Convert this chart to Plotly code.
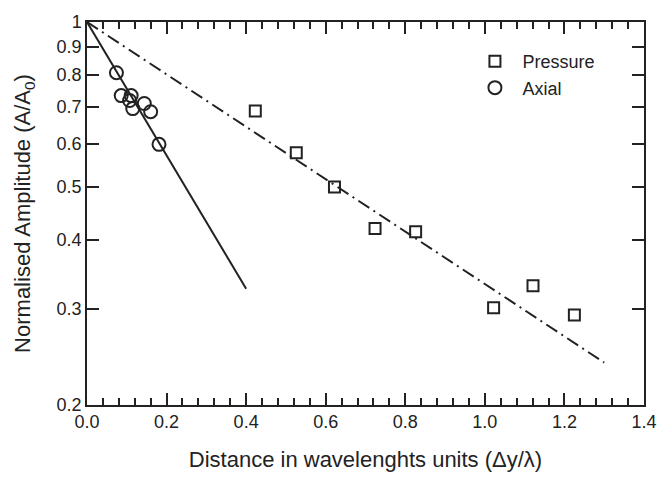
import plotly.graph_objects as go

# Data
pressure_x = [0.423, 0.526, 0.622, 0.724, 0.826, 1.022, 1.121, 1.225]
pressure_y = [0.688, 0.577, 0.500, 0.420, 0.414, 0.301, 0.330, 0.292]

axial_x = [0.074, 0.086, 0.111, 0.107, 0.115, 0.144, 0.160, 0.181]
axial_y = [0.808, 0.734, 0.734, 0.719, 0.695, 0.710, 0.686, 0.598]

pressure_fit_x = [0.0, 1.30]
pressure_fit_y = [1.0, 0.239]
axial_fit_x = [0.0, 0.40]
axial_fit_y = [1.0, 0.326]

y_tickvals = [0.2, 0.3, 0.4, 0.5, 0.6, 0.7, 0.8, 0.9, 1.0]
y_ticktext = ["0.2", "0.3", "0.4", "0.5", "0.6", "0.7", "0.8", "0.9", "1"]
x_tickvals = [0.0, 0.2, 0.4, 0.6, 0.8, 1.0, 1.2, 1.4]
x_ticktext = ["0.0", "0.2", "0.4", "0.6", "0.8", "1.0", "1.2", "1.4"]

INK = "#222222"
FONT = "Liberation Sans, Arial, sans-serif"

fig = go.Figure()

fig.add_trace(go.Scatter(
    x=axial_fit_x, y=axial_fit_y, mode="lines",
    line=dict(color=INK, width=2), showlegend=False, hoverinfo="skip"))
fig.add_trace(go.Scatter(
    x=pressure_fit_x, y=pressure_fit_y, mode="lines",
    line=dict(color=INK, width=2, dash="13px,5px,2px,5px"),
    showlegend=False, hoverinfo="skip"))

fig.add_trace(go.Scatter(
    x=pressure_x, y=pressure_y, mode="markers", name="Pressure",
    marker=dict(symbol="square-open", size=11, color=INK,
                line=dict(width=2, color=INK))))
fig.add_trace(go.Scatter(
    x=axial_x, y=axial_y, mode="markers", name="Axial",
    marker=dict(symbol="circle-open", size=13, color=INK,
                line=dict(width=2, color=INK))))

fig.update_layout(
    width=669, height=480,
    margin=dict(l=87, r=15, t=14, b=72),
    paper_bgcolor="white", plot_bgcolor="white",
    font=dict(family=FONT, size=18, color=INK),
    legend=dict(x=0.683, y=0.945, xanchor="left", yanchor="top",
                bgcolor="rgba(0,0,0,0)", font=dict(size=18),
                itemwidth=45),
)

fig.update_xaxes(
    range=[0, 1.4], tickvals=x_tickvals, ticktext=x_ticktext,
    ticks="inside", ticklen=12, tickwidth=1.5, tickcolor=INK,
    minor=dict(dtick=0.04, tick0=0, ticks="inside", ticklen=7,
               tickwidth=1.5, tickcolor=INK, showgrid=False),
    showline=True, linecolor=INK, linewidth=1.5, mirror="ticks",
    showgrid=False, zeroline=False,
    title=dict(text="Distance in wavelenghts units (Δy/λ)",
               font=dict(size=22), standoff=20),
    tickfont=dict(size=18),
)
fig.update_yaxes(
    type="log", range=[-0.69897, 0],
    tickvals=y_tickvals, ticktext=y_ticktext,
    ticks="inside", ticklen=12, tickwidth=1.5, tickcolor=INK,
    showline=True, linecolor=INK, linewidth=1.5, mirror="ticks",
    showgrid=False, zeroline=False,
    title=dict(text="Normalised Amplitude (A/A<sub>0</sub>)",
               font=dict(size=22), standoff=20),
    tickfont=dict(size=18),
)

fig.write_html("out.html")
